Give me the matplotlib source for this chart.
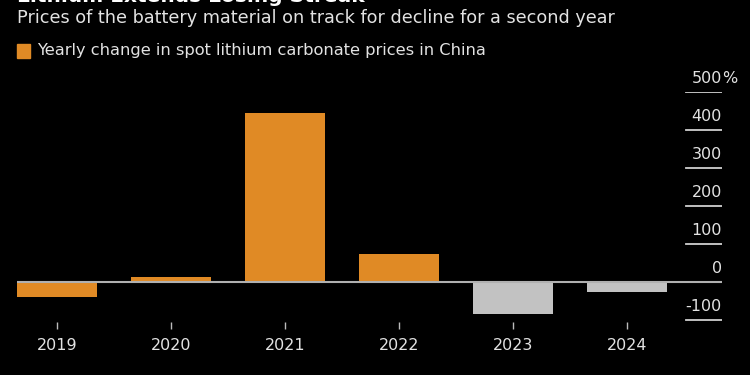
import matplotlib
matplotlib.use("Agg")
import matplotlib.pyplot as plt
import matplotlib.transforms as mtransforms
from matplotlib.patches import Rectangle

years = ["2019", "2020", "2021", "2022", "2023", "2024"]
changes = [-39, 13, 445, 74, -82, -25]
bar_colors = ["#E08A25", "#E08A25", "#E08A25", "#E08A25", "#C2C2C2", "#C2C2C2"]
y_ticks = [-100, 0, 100, 200, 300, 400, 500]
y_tick_labels = ["-100", "0", "100", "200", "300", "400", "500"]
unit = "%"
title = "Lithium Extends Losing Streak"
subtitle = "Prices of the battery material on track for decline for a second year"
legend_label = "Yearly change in spot lithium carbonate prices in China"

plt.rcParams["font.family"] = ["DejaVu Sans"]

TXT = "#E2E2E2"
fig = plt.figure(figsize=(7.5, 3.75), dpi=100, facecolor="black")
ax = fig.add_axes([17/750, 1 - 321.5/375, 705/750, 229.2/375])
ax.set_facecolor("black")

x = list(range(len(years)))
ax.bar(x, changes, width=0.70, color=bar_colors, zorder=2)

ax.set_xlim(-0.35, 5.83)
ax.set_ylim(-103, 500)

blend = mtransforms.blended_transform_factory(ax.transAxes, ax.transData)
for v, lab in zip(y_ticks, y_tick_labels):
    if v == 0:
        ax.axhline(0, color="#B0B0B0", lw=1.5, zorder=3)
    else:
        ax.axhline(v, xmin=0.949, xmax=1.0, color="#D0D0D0", lw=1.3, zorder=1)
    ax.text(1.0, v + 17, lab, transform=blend, ha="right", va="bottom", color=TXT, fontsize=11.5)
    if v == max(y_ticks):
        ax.text(1.0, v + 17, unit, transform=blend, ha="left", va="bottom", color=TXT, fontsize=11.5)

ax.set_xticks(x)
ax.set_xticklabels(years)
ax.tick_params(axis="x", colors="#BBBBBB", length=5, width=1, pad=7, labelsize=11.5, labelcolor=TXT)
ax.set_yticks([])
for s in ax.spines.values():
    s.set_visible(False)

fig.text(17/750, 1 - 6/375, title, color="white", fontsize=14.5, fontweight="bold", ha="left", va="bottom")
fig.text(17/750, 1 - 18/375, subtitle, color=TXT, fontsize=12.7, ha="left", va="center")
fig.patches.append(Rectangle((17/750, 1 - 58/375), 13/750, 14/375, transform=fig.transFigure,
                             color="#E08A25", figure=fig))
fig.text(37/750, 1 - 51/375, legend_label, color=TXT, fontsize=11.7, ha="left", va="center")

fig.savefig("out.png", dpi=100, facecolor="black")
